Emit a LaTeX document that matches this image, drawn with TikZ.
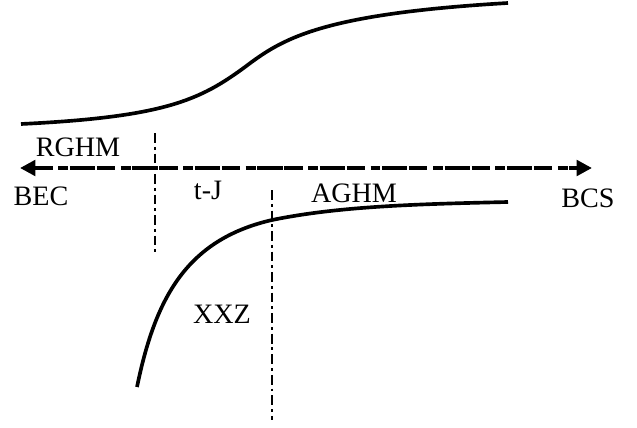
\documentclass[tikz,border=0pt]{standalone}
\usepackage{fontspec}
\setmainfont{Liberation Serif}
\usetikzlibrary{arrows.meta}
\tikzset{
  pointe/.tip={Triangle[length=11pt,width=11pt]},
  courbe/.style={line width=2.6pt},
  axe/.style={line width=3pt, dash pattern=on 13pt off 4pt on 7pt off 1.2pt on 18pt off 1.2pt, pointe-pointe},
  frontiere/.style={line width=2pt, dash pattern=on 7pt off 2.8pt on 2pt off 2.8pt},
  etiquette/.style={font=\fontsize{20}{24}\selectfont, inner sep=0pt}
}
\begin{document}
\begin{tikzpicture}[x=0.025cm, y=-0.025cm]
    \useasboundingbox (0,0) rectangle (637,427);

    % Courbes
    \draw[courbe] (21,124) .. controls (165,117) and (200,100) .. (245,67)
        .. controls (282,39) and (320,14) .. (508,3);
    \draw[courbe] (137,387) .. controls (155,300) and (185,240) .. (272,220)
        .. controls (340,206) and (420,204) .. (508,202);

    % Axe
    \coordinate (gauche) at (20,168);
    \coordinate (droite) at (592,168);
    \draw[axe] (gauche) -- (droite);

    % Frontieres
    \coordinate (f1haut) at (155,133);
    \coordinate (f1bas) at (155,252);
    \coordinate (f2haut) at (272,190);
    \coordinate (f2bas) at (272,420);
    \draw[frontiere] (f1haut) -- (f1bas);
    \draw[frontiere] (f2haut) -- (f2bas);

    % Etiquettes
    \node[etiquette] (rghm) at (78,147) {RGHM};
    \node[etiquette] (bec) at (41,196) {BEC};
    \node[etiquette] (tj) at (208,190) {t-J};
    \node[etiquette] (aghm) at (354,193) {AGHM};
    \node[etiquette] (bcs) at (588,198) {BCS};
    \node[etiquette] (xxz) at (222,314) {XXZ};
\end{tikzpicture}
\end{document}
